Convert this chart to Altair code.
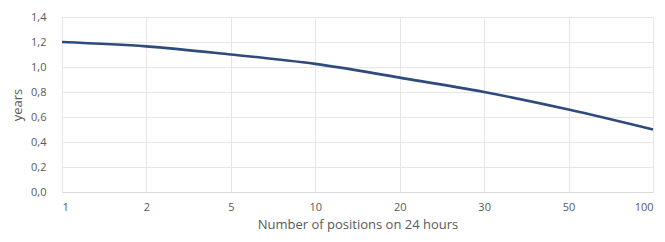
import altair as alt
import pandas as pd

positions = ["1", "2", "5", "10", "20", "30", "50", "100"]
years = [1.20, 1.165, 1.10, 1.025, 0.915, 0.80, 0.66, 0.50]

df = pd.DataFrame({"positions": positions, "years": years})

FONT = "Open Sans"
GRAY = "#595959"

chart = alt.Chart(df).mark_line(
    color="#2f4b7c", strokeWidth=2.6, interpolate="monotone"
).encode(
    x=alt.X(
        "positions:O",
        sort=positions,
        scale=alt.Scale(type="point", padding=0),
        axis=alt.Axis(
            title="Number of positions on 24 hours",
            labelAngle=0,
            grid=True,
            gridColor="#e6e6e6",
            domainColor="#d9d9d9",
            ticks=False,
            labelPadding=9,
            titlePadding=6,
            labelFontSize=11,
            titleFontSize=13,
            titleFontWeight="normal",
            labelColor=GRAY,
            titleColor=GRAY,
            labelFont=FONT,
            titleFont=FONT,
            labelOverlap=False,
            labelFlush=4,
        ),
    ),
    y=alt.Y(
        "years:Q",
        scale=alt.Scale(domain=[0, 1.4], nice=False),
        axis=alt.Axis(
            title="years",
            values=[0, 0.2, 0.4, 0.6, 0.8, 1.0, 1.2, 1.4],
            labelExpr="replace(format(datum.value, '.1f'), '.', ',')",
            grid=True,
            gridColor="#e6e6e6",
            domain=False,
            ticks=False,
            labelPadding=16,
            titlePadding=6,
            labelFontSize=11,
            titleFontSize=13,
            titleFontWeight="normal",
            labelColor=GRAY,
            titleColor=GRAY,
            labelFont=FONT,
            titleFont=FONT,
        ),
    ),
).properties(
    width=591,
    height=175,
    autosize=alt.AutoSizeParams(type="none"),
    padding={"left": 54, "top": 9, "right": 4, "bottom": 42},
).configure_view(stroke=None)

chart.save("out.html", embed_options={"renderer": "svg", "actions": False})
